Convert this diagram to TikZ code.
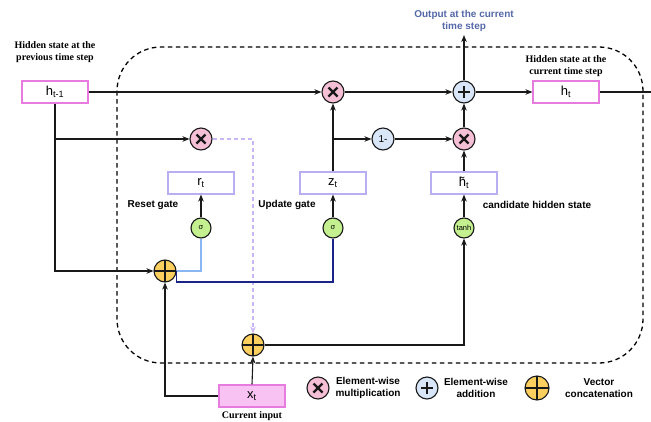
\documentclass[tikz,border=0pt]{standalone}
\usepackage{fontspec}
\setmainfont{Liberation Serif}
\setsansfont{Liberation Sans}
\usetikzlibrary{arrows.meta}

\definecolor{mulpink}{HTML}{F5BFD5}
\definecolor{addblue}{HTML}{D8E6F8}
\definecolor{catyel}{HTML}{FDCF5F}
\definecolor{actgrn}{HTML}{C4F090}
\definecolor{gateline}{HTML}{B8AEF2}
\definecolor{stateline}{HTML}{E77BE0}
\definecolor{inputfill}{HTML}{F8C2F2}
\definecolor{outblue}{HTML}{5468A8}
\definecolor{navyline}{HTML}{1A2388}
\definecolor{skyline}{HTML}{8AB6F4}
\definecolor{lavdash}{HTML}{C9B6F6}

\begin{document}
\begin{tikzpicture}[x=1pt,y=-1pt,
        >={Stealth[length=7pt,width=5.5pt]},
        flow/.style={draw=black!90,line width=1.1pt},
        statebox/.style={draw=stateline,line width=1.1pt,minimum width=66pt,minimum height=22pt,inner sep=0pt,font=\sffamily\fontsize{13}{13}\selectfont},
        gatebox/.style={statebox,draw=gateline},
        opcirc/.style={circle,draw=black!90,line width=1.1pt,minimum size=22pt,inner sep=0pt},
        mulop/.style={opcirc,fill=mulpink,path picture={\draw[line width=2.2pt] (path picture bounding box.center) +(-4.5pt,-4.5pt) -- +(4.5pt,4.5pt) +(-4.5pt,4.5pt) -- +(4.5pt,-4.5pt);}},
        addop/.style={opcirc,fill=addblue,path picture={\draw[line width=1.9pt] (path picture bounding box.center) +(-6pt,0pt) -- +(6pt,0pt) +(0pt,-6pt) -- +(0pt,6pt);}},
        catop/.style={opcirc,fill=catyel,path picture={\draw[line width=1.1pt] (path picture bounding box.north) -- (path picture bounding box.south) (path picture bounding box.west) -- (path picture bounding box.east);}},
        actfn/.style={opcirc,fill=actgrn,minimum size=20pt,font=\sffamily\fontsize{7.5}{7.5}\selectfont},
        gatelbl/.style={font=\sffamily\bfseries\fontsize{10}{11.5}\selectfont,align=center},
        caption/.style={font=\bfseries\fontsize{10}{11.5}\selectfont,align=center}
      ]
      \useasboundingbox (0,0) rectangle (651,421);

      % the cell
      \draw[line width=1.3pt,dash pattern=on 4.5pt off 3.5pt,rounded corners=44pt] (117,47) rectangle (643,363);

      % states and gate outputs
      \node[statebox] (hprev) at (55,92) {h\textsubscript{t-1}};
      \node[statebox] (hcur) at (566,92) {h\textsubscript{t}};
      \node[gatebox] (rbox) at (201,183) {r\textsubscript{t}};
      \node[gatebox] (zbox) at (333,183) {z\textsubscript{t}};
      \node[gatebox] (htbox) at (464,183) {\~{h}\textsubscript{t}};
      \node[statebox,fill=inputfill] (xin) at (252,396) {x\textsubscript{t}};
      \coordinate (hout) at (651,92);
      \coordinate (outtip) at (464,35);

      % operations
      \node[mulop] (mulz) at (333,92) {};
      \node[addop] (addh) at (464,92) {};
      \node[mulop] (mulr) at (201,139) {};
      \node[opcirc,fill=addblue,font=\sffamily\fontsize{10}{10}\selectfont] (oneminus) at (383,139) {1-};
      \node[mulop] (mulc) at (464,139) {};
      \node[actfn] (sigr) at (201,228) {σ};
      \node[actfn] (sigz) at (333,228) {σ};
      \node[actfn] (tanhc) at (464,228) {tanh};
      \node[catop] (cat1) at (165,271) {};
      \node[catop] (cat2) at (253,345) {};

      % labels
      \node[caption] at (55,52) {Hidden state at the\\previous time step};
      \node[caption] at (566,66) {Hidden state at the\\current time step};
      \node[caption] at (252,416) {Current input};
      \node[gatelbl,text=outblue] at (464,21) {Output at the current\\time step};
      \node[gatelbl] at (153,205) {Reset gate};
      \node[gatelbl] at (287,205) {Update gate};
      \node[gatelbl] at (537,205) {candidate hidden state};

      % connectors
      \draw[flow,->] (hprev.east) -- (mulz.west);
      \draw[flow,->] (mulz.east) -- (addh.west);
      \draw[flow,->] (addh.east) -- (hcur.west);
      \draw[flow] (hcur.east) -- (hout);
      \draw[flow,->] (addh.north) -- (outtip);
      \draw[flow,->] (zbox.north) -- (mulz.south);
      \draw[flow,->] (zbox.north |- oneminus) -- (oneminus.west);
      \draw[flow,->] (oneminus.east) -- (mulc.west);
      \draw[flow,->] (mulc.north) -- (addh.south);
      \draw[flow,->] (htbox.north) -- (mulc.south);
      \draw[flow,->] (sigr.north) -- (rbox.south);
      \draw[flow,->] (sigz.north) -- (zbox.south);
      \draw[flow,->] (tanhc.north) -- (htbox.south);
      \draw[flow,->] (hprev.south) |- (cat1.west);
      \draw[flow,->] (hprev.south |- mulr) -- (mulr.west);
      \draw[lavdash,line width=1.1pt,dash pattern=on 4pt off 3pt,->] (mulr.east) -| (cat2.north);
      \draw[skyline,line width=1.1pt] (cat1.east) -| (sigr.south);
      \draw[navyline,line width=1.1pt] (cat1.east) -- ++(0,11) -| (sigz.south);
      \draw[flow,->] (cat2.east) -| (tanhc.south);
      \draw[flow,->] (xin.north) -- (cat2.south);
      \draw[flow,->] (xin.west) -| (cat1.south);

      % legend
      \node[mulop] (lmul) at (318,388) {};
      \node[gatelbl] at (368,388) {Element-wise\\multiplication};
      \node[addop] (ladd) at (427,388) {};
      \node[gatelbl] at (476,388) {Element-wise\\addition};
      \node[catop,minimum size=24pt] (lcat) at (537,388) {};
      \node[gatelbl] at (599,388) {Vector\\concatenation};
    \end{tikzpicture}
\end{document}
